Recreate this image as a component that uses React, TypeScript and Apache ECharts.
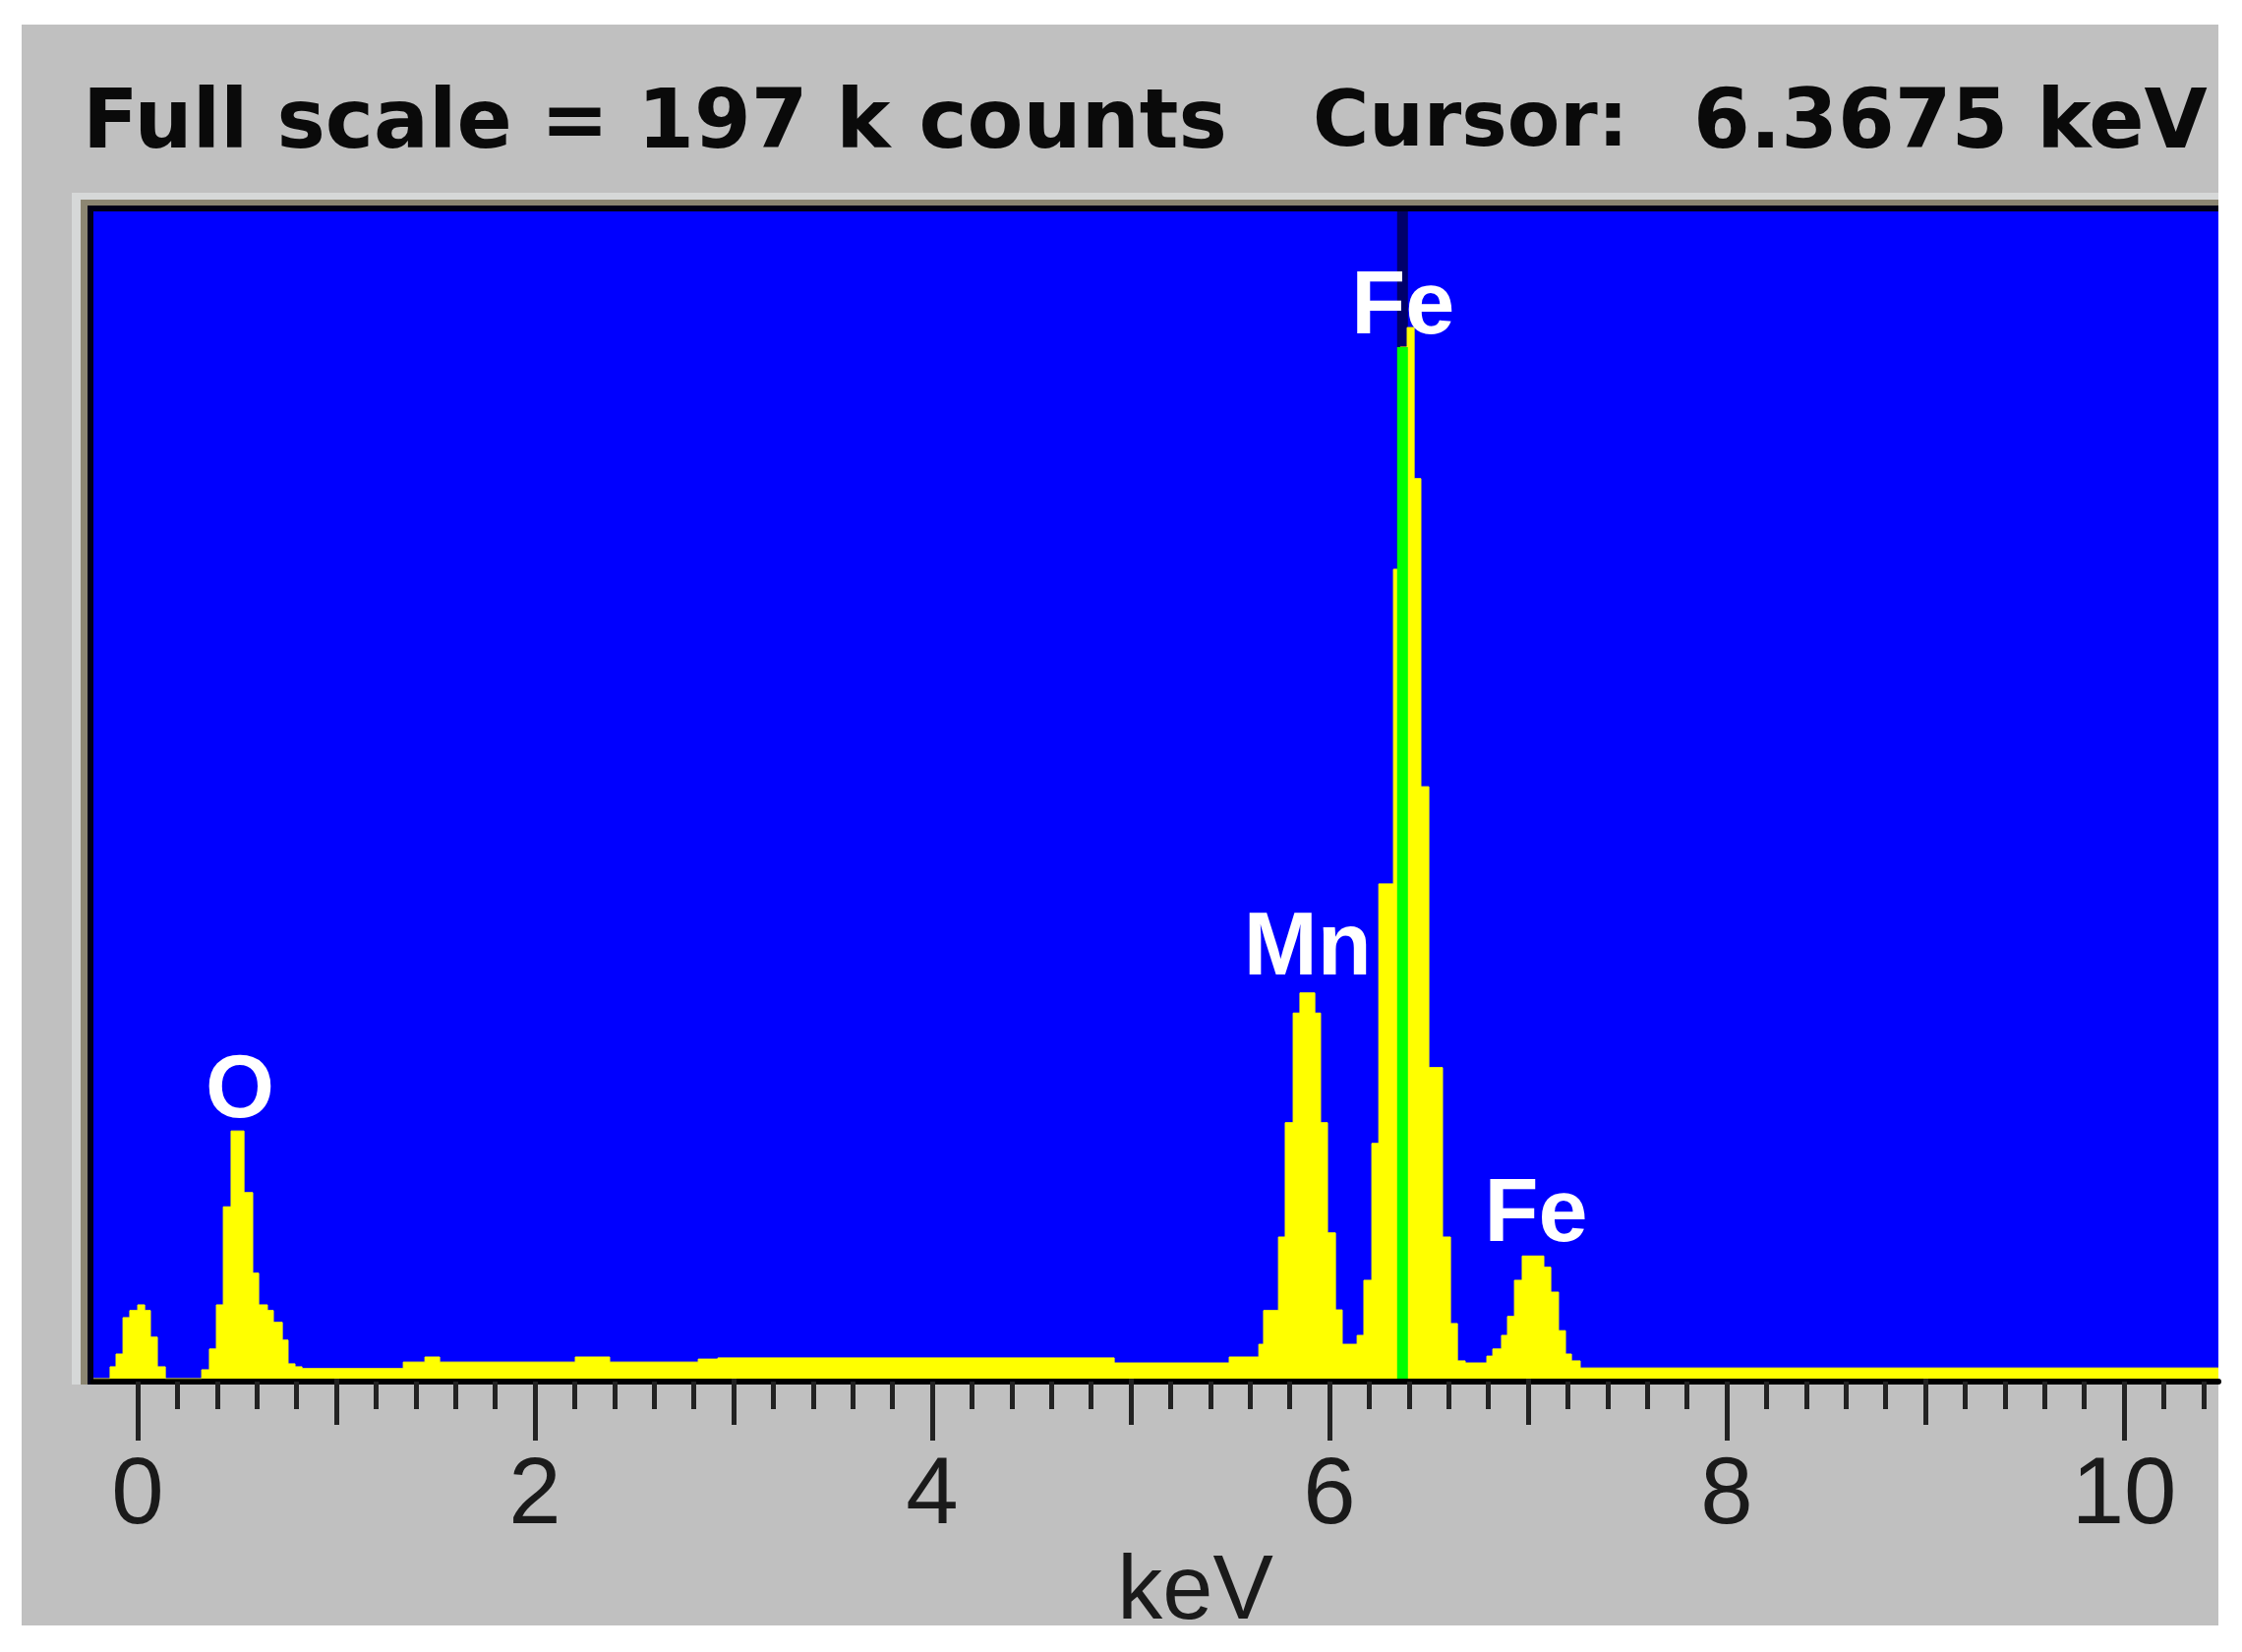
import React, { useEffect, useRef } from "react";
import * as echarts from "echarts";

// Spectrum: left edge of each step (keV) and counts (k counts)
const energyKeV = [
  -0.223, -0.139, -0.109, -0.074, -0.04, 0.0, 0.035, 0.064, 0.099, 0.139,
  0.322, 0.361, 0.396, 0.431, 0.47, 0.535, 0.579, 0.609, 0.653, 0.683,
  0.728, 0.757, 0.792, 0.827, 1.337, 1.446, 1.52, 2.203, 2.376, 2.822,
  2.921, 4.916, 5.495, 5.644, 5.668, 5.743, 5.777, 5.817, 5.851, 5.926,
  5.955, 5.99, 6.03, 6.064, 6.139, 6.173, 6.213, 6.248, 6.322, 6.356,
  6.391, 6.426, 6.46, 6.5, 6.569, 6.609, 6.644, 6.683, 6.792, 6.822,
  6.866, 6.896, 6.931, 6.97, 7.079, 7.114, 7.153, 7.188, 7.218, 7.262,
  10.475,
];
const countsK = [
  0, 2.0, 4.15, 10.3, 11.5, 12.45, 11.5, 7.0, 2.0, 0,
  1.5, 5.0, 12.45, 29.0, 41.8, 31.4, 17.8, 12.45, 11.5, 9.5,
  6.5, 2.5, 2.0, 1.7, 2.8, 3.65, 2.8, 3.65, 2.8, 3.3,
  3.5, 2.65, 3.65, 5.8, 11.5, 23.9, 43.2, 61.7, 65.1, 61.7,
  43.2, 24.6, 11.6, 5.8, 7.3, 16.6, 39.7, 83.5, 136.6, 174.1,
  177.4, 151.9, 99.9, 52.5, 23.9, 9.3, 3.0, 2.65, 3.8, 5.0,
  7.3, 10.5, 16.6, 20.7, 18.8, 14.6, 8.1, 4.15, 3.0, 1.8,
  1.8,
];

const majorTicks = [0, 2, 4, 6, 8, 10];
const mediumTicks = [1, 3, 5, 7, 9];
const minorTicks = [
  0.2, 0.4, 0.6, 0.8, 1.2, 1.4, 1.6, 1.8, 2.2, 2.4, 2.6, 2.8, 3.2, 3.4, 3.6, 3.8,
  4.2, 4.4, 4.6, 4.8, 5.2, 5.4, 5.6, 5.8, 6.2, 6.4, 6.6, 6.8, 7.2, 7.4, 7.6, 7.8,
  8.2, 8.4, 8.6, 8.8, 9.2, 9.4, 9.6, 9.8, 10.2, 10.4,
];

const peakNames = ["O", "Mn", "Fe", "Fe"];
const peakKeV = [0.515, 5.89, 6.37, 7.04];
const peakLabelK = [49.3, 73.4, 181.6, 28.4];

const fullScaleK = 197;
const cursorKeV = 6.3675;
const cursorCountsK = 174.1;
const axisMinKeV = -0.223;
const axisMaxKeV = 10.475;

export default function App() {
  const ref = useRef<HTMLDivElement>(null);

  useEffect(() => {
    if (!ref.current) return;
    const chart = echarts.init(ref.current, null, { renderer: "svg" });

    const spectrum = energyKeV.map((e, i) => [e, countsK[i]]);

    const baseAxis = {
      type: "value",
      min: axisMinKeV,
      max: axisMaxKeV,
      position: "bottom",
      offset: 3,
      splitLine: { show: false },
    };

    const titleFont = 'bold 83px "DejaVu Sans"';

    chart.setOption({
      animation: false,
      backgroundColor: "#FFFFFF",
      grid: { left: 95, top: 215, right: 24, bottom: 278, containLabel: false },
      xAxis: [
        {
          ...baseAxis,
          axisLine: { show: true, onZero: false, lineStyle: { color: "#000000", width: 6 } },
          axisTick: {
            show: true,
            customValues: majorTicks,
            length: 60,
            lineStyle: { color: "#222222", width: 5 },
          },
          axisLabel: {
            show: true,
            customValues: majorTicks,
            fontSize: 96,
            fontFamily: "Liberation Sans",
            color: "#1a1a1a",
            margin: 62,
          },
          name: "keV",
          nameLocation: "middle",
          nameGap: 140,
          nameTextStyle: {
            fontSize: 92,
            fontFamily: "Liberation Sans",
            color: "#1a1a1a",
            padding: [0, 0, 0, 80],
          },
        },
        {
          ...baseAxis,
          axisLine: { show: false },
          axisLabel: { show: false },
          axisTick: {
            show: true,
            customValues: mediumTicks,
            length: 47,
            lineStyle: { color: "#222222", width: 5 },
          },
        },
        {
          ...baseAxis,
          axisLine: { show: false },
          axisLabel: { show: false },
          axisTick: {
            show: true,
            customValues: minorTicks,
            length: 28,
            lineStyle: { color: "#222222", width: 5 },
          },
        },
      ],
      yAxis: { type: "value", min: 0, max: fullScaleK, show: false },
      graphic: [
        { type: "rect", z: -10, silent: true, shape: { x: 22, y: 25, width: 2234, height: 1628 }, style: { fill: "#C0C0C0" } },
        { type: "rect", z: -9, silent: true, shape: { x: 73, y: 196, width: 2183, height: 1212 }, style: { fill: "#D6D8D8" } },
        { type: "rect", z: -8, silent: true, shape: { x: 82, y: 203, width: 2174, height: 1205 }, style: { fill: "#8C8672" } },
        { type: "rect", z: -7, silent: true, shape: { x: 89, y: 209, width: 2167, height: 1199 }, style: { fill: "#000018" } },
        { type: "rect", z: -6, silent: true, shape: { x: 95, y: 215, width: 2161, height: 1187 }, style: { fill: "#0000FF" } },
        {
          type: "text", z: 10, silent: true, x: 84, y: 121,
          style: { text: `Full scale = ${fullScaleK} k counts`, font: titleFont, fill: "#0a0a0a", align: "left", verticalAlign: "middle" },
        },
        {
          type: "text", z: 10, silent: true, x: 1335, y: 121,
          style: { text: "Cursor:", font: 'bold 78px "DejaVu Sans"', fill: "#0a0a0a", align: "left", verticalAlign: "middle" },
        },
        {
          type: "text", z: 10, silent: true, x: 1722, y: 121,
          style: { text: `${cursorKeV} keV`, font: titleFont, fill: "#0a0a0a", align: "left", verticalAlign: "middle" },
        },
      ],
      series: [
        {
          name: "cursor",
          type: "line",
          z: 1,
          silent: true,
          symbol: "none",
          data: [[cursorKeV, 0], [cursorKeV, fullScaleK]],
          lineStyle: { color: "#00006A", width: 11 },
        },
        {
          name: "spectrum",
          type: "line",
          z: 2,
          step: "end",
          symbol: "none",
          silent: true,
          data: spectrum,
          lineStyle: { color: "#FFFF00", width: 1 },
          areaStyle: { color: "#FFFF00", opacity: 1 },
        },
        {
          name: "cursorOnSpectrum",
          type: "line",
          z: 3,
          silent: true,
          symbol: "none",
          data: [[cursorKeV, 0], [cursorKeV, cursorCountsK]],
          lineStyle: { color: "#00FF00", width: 11 },
        },
        {
          name: "peaks",
          type: "scatter",
          z: 5,
          silent: true,
          symbolSize: 1,
          itemStyle: { color: "rgba(0,0,0,0)", opacity: 1 },
          data: peakNames.map((n, i) => ({ name: n, value: [peakKeV[i], peakLabelK[i]] })),
          label: {
            show: true,
            position: "inside",
            formatter: "{b}",
            color: "#FFFFFF",
            opacity: 1,
            fontSize: 90,
            fontWeight: "bold",
            fontFamily: "Liberation Sans",
          },
        },
      ],
    });

    return () => {
      chart.dispose();
    };
  }, []);

  return (
    <div
      ref={ref}
      style={{ position: "fixed", left: 0, top: 0, width: 2280, height: 1680, background: "#FFFFFF" }}
    />
  );
}
